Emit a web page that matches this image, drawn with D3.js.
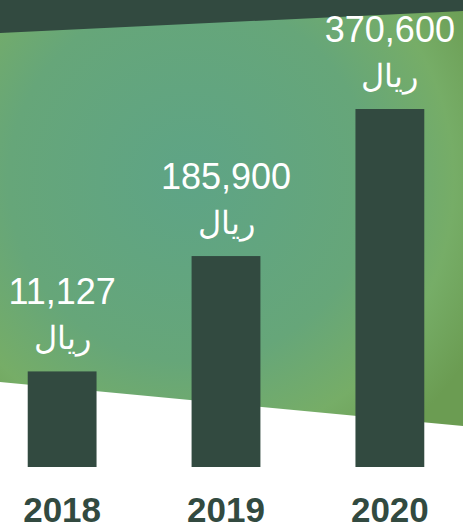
<!DOCTYPE html>
<html>
<head>
<meta charset="utf-8">
<script src="https://cdn.jsdelivr.net/npm/d3@7"></script>
<style>
  html, body { margin: 0; padding: 0; background: #fff; }
  svg { display: block; }
</style>
</head>
<body>
<div id="chart"></div>
<script>
// data
const years = ["2018", "2019", "2020"];
const amounts = [11127, 185900, 370600];
const unitLabel = "ريال";

const width = 463, height = 530;
const baseline = 467;
const minBar = 91;   // bars never start from zero in this design
const BAR = "#324a40";

const svg = d3.select("#chart")
  .append("svg")
  .attr("width", width)
  .attr("height", height);

// gradient for the green backdrop
const defs = svg.append("defs");
const grad = defs.append("radialGradient")
  .attr("id", "bg")
  .attr("gradientUnits", "userSpaceOnUse")
  .attr("cx", 190).attr("cy", 180).attr("r", 330);
grad.append("stop").attr("offset", 0).attr("stop-color", "#5ea486");
grad.append("stop").attr("offset", 0.55).attr("stop-color", "#66a679");
grad.append("stop").attr("offset", 0.8).attr("stop-color", "#76ad67");
grad.append("stop").attr("offset", 1).attr("stop-color", "#6b9c52");

// backdrop shapes
svg.append("path")
  .attr("d", "M0,30 L463,8 L463,426 L0,382 Z")
  .attr("fill", "url(#bg)");
svg.append("path")
  .attr("d", "M0,0 L463,0 L463,11 L0,33 Z")
  .attr("fill", BAR);

// scales
const x = d3.scaleBand()
  .domain(years)
  .range([1.5, 450.5])
  .paddingInner(0.58)
  .paddingOuter(0.16);

const y = d3.scalePow()
  .exponent(1.16)
  .domain([0, d3.max(amounts)])
  .range([baseline - minBar, 109]);

const data = years.map((yr, i) => ({ year: yr, value: amounts[i] }));

svg.append("g")
  .selectAll("rect")
  .data(data)
  .join("rect")
    .attr("x", d => x(d.year))
    .attr("y", d => y(d.value))
    .attr("width", x.bandwidth())
    .attr("height", d => baseline - y(d.value))
    .attr("fill", BAR);

// value labels
const labels = svg.append("g")
  .selectAll("g")
  .data(data)
  .join("g")
    .attr("transform", d => `translate(${x(d.year) + x.bandwidth() / 2},${y(d.value)})`);

labels.append("text")
  .attr("y", -67)
  .attr("text-anchor", "middle")
  .attr("fill", "#fff")
  .style("font-family", "'Liberation Sans', Arial, sans-serif")
  .style("font-size", "36px")
  .text(d => d3.format(",")(d.value));

labels.append("text")
  .attr("y", -22)
  .attr("text-anchor", "middle")
  .attr("fill", "#fff")
  .style("font-family", "'DejaVu Sans', sans-serif")
  .style("font-size", "32px")
  .style("font-weight", "200")
  .text(unitLabel);

// year axis (no line, just labels)
svg.append("g")
  .attr("transform", `translate(0,${baseline})`)
  .call(d3.axisBottom(x).tickSize(0).tickPadding(0))
  .call(g => g.select(".domain").remove())
  .selectAll("text")
    .attr("y", 55)
    .attr("dy", 0)
    .attr("fill", BAR)
    .style("font-family", "'Liberation Sans', Arial, sans-serif")
    .style("font-size", "35px")
    .style("font-weight", "bold");
</script>
</body>
</html>
